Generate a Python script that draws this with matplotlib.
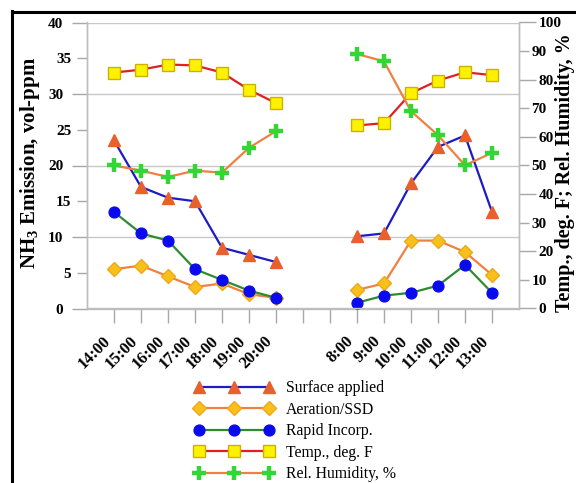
import numpy as np
import matplotlib
matplotlib.use("Agg")
import matplotlib.pyplot as plt
from matplotlib.lines import Line2D
from matplotlib.ticker import FixedLocator, FormatStrFormatter
import matplotlib.transforms as mtransforms

plt.rcParams['font.family'] = ['Liberation Serif', 'DejaVu Serif']
plt.rcParams['mathtext.default'] = 'regular'

# ---- data ----
categories = ['14:00', '15:00', '16:00', '17:00', '18:00', '19:00', '20:00', '', '',
              '8:00', '9:00', '10:00', '11:00', '12:00', '13:00']
surface_applied = [23.5, 17.0, 15.5, 15.0, 8.5, 7.5, 6.5, None, None,
                   10.1, 10.5, 17.5, 22.6, 24.2, 13.5]
aeration_ssd = [5.5, 6.0, 4.5, 3.0, 3.5, 2.0, 1.5, None, None,
                2.6, 3.5, 9.5, 9.5, 7.9, 4.7]
rapid_incorp = [13.5, 10.5, 9.5, 5.5, 4.0, 2.5, 1.5, None, None,
                0.8, 1.8, 2.2, 3.2, 6.1, 2.2]
temp_f = [82.5, 83.5, 85.3, 85.0, 82.5, 76.5, 71.8, None, None,
          64.0, 64.8, 75.3, 79.7, 82.6, 81.6]
rel_humidity = [50.0, 48.2, 46.0, 48.2, 47.5, 56.2, 62.0, None, None,
                89.0, 86.4, 69.0, 60.6, 50.1, 54.4]
left_major = [0, 10, 20, 30, 40]
left_minor = [5, 15, 25, 35]
right_major = [0, 20, 40, 60, 80, 100]
right_minor = [10, 30, 50, 70, 90]

def arr(v):
    return np.array([np.nan if x is None else x for x in v], dtype=float)

W, H = 576, 483
fig = plt.figure(figsize=(W / 100, H / 100), dpi=100)
L, R, B, T = 87, 519, 308.5, 22.5
ax = fig.add_axes([L / W, 1 - B / H, (R - L) / W, (B - T) / H])
ax2 = ax.twinx()

x = np.arange(len(categories))
grey = '#BDBDBD'
tickc = '#A8A8A8'

ax.set_xlim(-1, len(categories))
ax.set_ylim(0, 40)
ax2.set_ylim(0, 100)

for g in left_major[1:]:
    ax.axhline(g, color='#C8C8C8', lw=1.0, zorder=0)

lw = 1.6
h1, = ax.plot(x, arr(surface_applied), color='#1C1CC4', lw=lw, marker='^', ms=9,
              mfc='#E8602C', mec='#E8602C', label='Surface applied', zorder=3)
h2, = ax.plot(x, arr(aeration_ssd), color='#F08040', lw=lw, marker='D', ms=6.8,
              mfc='#F7C01A', mec='#F0A818', label='Aeration/SSD', zorder=3)
h3, = ax.plot(x, arr(rapid_incorp), color='#2E8B2E', lw=lw, marker='o', ms=7.8,
              mfc='#0A0AEE', mec='#0A0AEE', label='Rapid Incorp.', zorder=3)
h4, = ax2.plot(x, arr(temp_f), color='#E02020', lw=lw, marker='s', ms=8,
               mfc='#FFF200', mec='#C8B400', mew=1.0, label='Temp., deg. F', zorder=3)
h5, = ax2.plot(x, arr(rel_humidity), color='#F08040', lw=lw, marker='+', ms=10.5,
               mec='#33D633', mew=3.2, label='Rel. Humidity, %', zorder=3)

for a in (ax, ax2):
    a.spines['top'].set_visible(False)
    for s in ['left', 'right', 'bottom']:
        a.spines[s].set_color(grey)
        a.spines[s].set_linewidth(1.0)

# x axis
ax.xaxis.set_major_locator(FixedLocator(x))
ax.set_xticklabels(categories, rotation=45, ha='right', va='center',
                   rotation_mode='anchor', fontsize=12, fontweight='bold')
ax.tick_params(axis='x', length=10, width=1, color=tickc, pad=12)
off = mtransforms.ScaledTranslation(-6 / 100, 0, fig.dpi_scale_trans)
for t in ax.get_xticklabels():
    t.set_transform(t.get_transform() + off)

# left y axis
ax.yaxis.set_major_locator(FixedLocator(left_major))
ax.yaxis.set_minor_locator(FixedLocator(left_minor))
ax.yaxis.set_major_formatter(FormatStrFormatter('%d'))
ax.yaxis.set_minor_formatter(FormatStrFormatter('%d'))
ax.tick_params(axis='y', which='major', length=11, width=1, color=tickc, pad=6, labelsize=11)
ax.tick_params(axis='y', which='minor', length=7, width=1, color=tickc, pad=4.3, labelsize=11)
for t in ax.get_yticklabels() + ax.get_yticklabels(minor=True):
    t.set_fontweight('bold')

# right y axis
ax2.yaxis.set_major_locator(FixedLocator(right_major))
ax2.yaxis.set_minor_locator(FixedLocator(right_minor))
ax2.yaxis.set_major_formatter(FormatStrFormatter('%d'))
ax2.yaxis.set_minor_formatter(FormatStrFormatter('%d'))
ax2.tick_params(axis='y', which='major', length=12, width=1, color=tickc, pad=2, labelsize=11)
ax2.tick_params(axis='y', which='minor', length=7, width=1, color=tickc, pad=2, labelsize=11)
for t in ax2.get_yticklabels() + ax2.get_yticklabels(minor=True):
    t.set_fontweight('bold')

fig.text(30 / W, 1 - 163.5 / H, 'NH$_3$ Emission, vol-ppm', rotation=90,
         ha='center', va='center', fontsize=15, fontweight='bold')
fig.text(565 / W, 1 - 173 / H, 'Temp., deg. F; Rel. Humidity, %', rotation=90,
         ha='center', va='center', fontsize=14.5, fontweight='bold')

fig.legend(handles=[h1, h2, h3, h4, h5], loc='upper left',
           bbox_to_anchor=(186 / W, 1 - 372.5 / H), frameon=False, borderpad=0,
           numpoints=3, handlelength=5.06, handletextpad=0.78, labelspacing=0.345,
           fontsize=11.3)

# outer black frame (top and left visible)
fig.add_artist(Line2D([11.5 / W, 11.5 / W], [0, 1 - 10.5 / H], transform=fig.transFigure,
                      color='black', lw=2.2))
fig.add_artist(Line2D([11.5 / W, 1], [1 - 11.5 / H, 1 - 11.5 / H], transform=fig.transFigure,
                      color='black', lw=2.2))

fig.savefig('out.png', dpi=100)
